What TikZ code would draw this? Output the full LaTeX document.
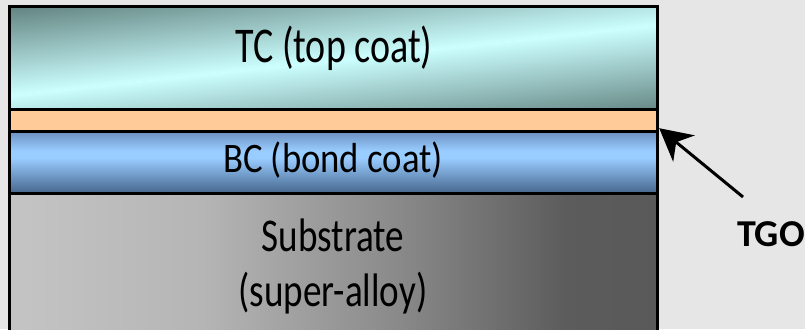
\documentclass[tikz,border=0pt]{standalone}
\usepackage{fontspec}
\setmainfont{Carlito}
\usetikzlibrary{arrows.meta,calc}
\definecolor{bg}{HTML}{E6E6E6}
\definecolor{tcdark}{HTML}{5A7A77}
\definecolor{tclight}{HTML}{CCFFFF}
\definecolor{tgocol}{HTML}{FFCC99}
\definecolor{bctop}{HTML}{6E92C3}
\definecolor{bcmid}{HTML}{99CCFF}
\definecolor{bcbot}{HTML}{44648A}
\pgfdeclareverticalshading{bcshade}{100bp}{color(0bp)=(bcbot); color(25bp)=(bcbot); color(54bp)=(bcmid); color(60bp)=(bcmid); color(75bp)=(bctop); color(100bp)=(bctop)}
\pgfdeclarehorizontalshading{subshade}{100bp}{color(0bp)=(gray!0!white!77!black); color(25bp)=(white!77!black); color(40bp)=(white!71!black); color(55bp)=(white!54!black); color(68bp)=(white!36!black); color(75bp)=(white!35!black); color(100bp)=(white!35!black)}
\tikzset{
  border/.style={line width=3pt, black},
  lbl/.style={anchor=base, inner sep=0pt},
  tgolayer/.style={rectangle, inner sep=0pt, minimum width=648pt, minimum height=22pt, fill=tgocol},
  arr/.style={line width=3pt, -{Stealth[length=32pt,width=34pt,inset=10pt]}}
}
\begin{document}
\begin{tikzpicture}[x=1pt,y=1pt]
\useasboundingbox (0,0) rectangle (805,329);
\fill[bg] (0,0) rectangle (805,329);
% TC layer with tilted mirror gradient
\begin{scope}
  \clip (9,219) rectangle (657,323);
  \begin{scope}[transform canvas={shift={(333,269)},rotate=6.2}]
    \shade[top color=tcdark,bottom color=tclight] (-500,0) rectangle (500,95);
    \shade[top color=tclight,bottom color=tcdark] (-500,-95) rectangle (500,0);
  \end{scope}
\end{scope}
% TGO layer
\node[tgolayer] (tgo) at (333,208) {};
% BC layer
\shade[shading=bcshade] (9,135) rectangle (657,197);
% Substrate
\shade[shading=subshade] (9,-5) rectangle (657,135);
% borders
\draw[border] (9.5,-5) -- (9.5,322.5) -- (657,322.5) -- (657,-5);
\draw[border] (9.5,219) -- (657,219);
\draw[border] (9.5,197) -- (657,197);
\draw[border] (9.5,135) -- (657,135);
% texts
\node[lbl, font=\fontsize{50}{58}\selectfont] (tc) at (334,266) {\scalebox{0.76}[1]{TC (top coat)}};
\node[lbl, font=\fontsize{42}{50}\selectfont] (bc) at (333,156) {\scalebox{0.875}[1]{BC (bond coat)}};
\node[lbl, font=\fontsize{47}{54}\selectfont] (sub1) at (333,77) {\scalebox{0.79}[1]{Substrate}};
\node[lbl, font=\fontsize{47}{54}\selectfont] (sub2) at (333,23) {\scalebox{0.79}[1]{(super-alloy)}};
\node[anchor=base west, inner sep=0pt, font=\fontsize{38}{44}\selectfont\bfseries] (tgolabel) at (737,82) {TGO};
% arrow
\coordinate (astart) at (743,132);
\coordinate (aend) at ($(tgo.south east)+(2,4)$);
\draw[arr] (astart) -- (aend);
\end{tikzpicture}
\end{document}
